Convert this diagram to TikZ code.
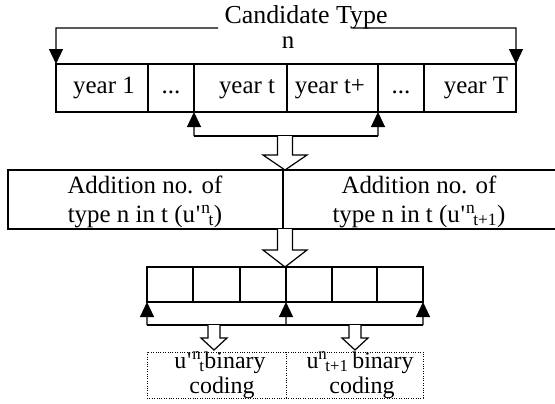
\documentclass[tikz,border=0pt]{standalone}
\usepackage{fontspec}
\setmainfont{Liberation Serif}
\usetikzlibrary{arrows.meta}
\newcommand{\mysupsub}[2]{\textsuperscript{#1}\kern-0.08em\textsubscript{#2}}
\newcommand{\myq}{\kern0.03em\textquotesingle\kern0.04em}
\tikzset{
  cell/.style={draw, line width=1.2bp, minimum height=#1, inner sep=0pt, outer sep=0pt},
  upTip/.style={line width=1.2bp, -{Triangle[length=15bp,width=14bp]}},
  hollow/.style={draw, fill=white, line width=1.2bp, line join=miter},
  dotbox/.style={draw, dash pattern=on 1bp off 1.4bp, line width=0.9bp, inner sep=0pt, outer sep=0pt, minimum height=46bp},
  lbl/.style={anchor=base, inner sep=0pt, font=\fontsize{25}{28}\selectfont},
  tlbl/.style={anchor=base, inner sep=0pt, font=\fontsize{26}{28}\selectfont},
  slbl/.style={anchor=base, inner sep=0pt, font=\fontsize{24}{28}\selectfont},
}
\begin{document}
\begin{tikzpicture}[x=1bp,y=-1bp]
\useasboundingbox (0,0) rectangle (555,403);
% year row
\node[cell=48bp, minimum width=92bp] (y1) at (102,88) {};
\node[cell=48bp, minimum width=46bp] (y2) at (171,88) {};
\node[cell=48bp, minimum width=93bp] (y3) at (240.5,88) {};
\node[cell=48bp, minimum width=91bp] (y4) at (332.5,88) {};
\node[cell=48bp, minimum width=46bp] (y5) at (401,88) {};
\node[cell=48bp, minimum width=92bp] (y6) at (470,88) {};
\node[lbl] (t1) at (104,93) {year 1};
\node[lbl] (t2) at (171,93) {...};
\node[lbl] (t3) at (247,93) {year t};
\node[lbl] (t4) at (330,93) {year t+};
\node[lbl] (t5) at (401,93) {...};
\node[lbl] (t6) at (476,93) {year T};
% top label and bracket
\node[tlbl] (cand) at (306,23) {Candidate Type};
\node[lbl] (nn) at (288,48) {n};
\coordinate (tlA) at (218,28);
\coordinate (tlB) at (56,28);
\coordinate (trA) at (353,28);
\coordinate (trB) at (516,28);
\draw[upTip] (tlA) -- (tlB) -- (y1.north west);
\draw[upTip] (trA) -- (trB) -- (y6.north east);
% bracket below year row
\coordinate (b1) at (194,136);
\coordinate (b2) at (378,136);
\draw[line width=1.2bp] (b1) -- (b2);
\draw[upTip] (b1) -- (y3.south west);
\draw[upTip] (b2) -- (y4.south east);
% hollow arrow 1
\draw[hollow] (277.5,136) -- (277.5,155) -- (263,155) -- (285,170) -- (307,155) -- (292.5,155) -- (292.5,136);
% middle boxes
\node[cell=59bp, minimum width=275bp] (ml) at (145.5,199.5) {};
\node[cell=59bp, minimum width=276bp] (mr) at (421,199.5) {};
\node[lbl] (ml1) at (145,193) {Addition no. of};
\node[lbl] (ml2) at (145,222) {type n in t (u\myq\mysupsub{n}{t})};
\node[lbl] (mr1) at (419,193) {Addition no. of};
\node[lbl] (mr2) at (419,222) {type n in t (u\myq\mysupsub{n}{t+1})};
% hollow arrow 2
\draw[hollow] (277.5,229) -- (277.5,250) -- (263,250) -- (285,267) -- (307,250) -- (292.5,250) -- (292.5,229);
% bottom cells
\node[cell=35bp, minimum width=46bp] (c1) at (170,284.5) {};
\node[cell=35bp, minimum width=47bp] (c2) at (216.5,284.5) {};
\node[cell=35bp, minimum width=46bp] (c3) at (263,284.5) {};
\node[cell=35bp, minimum width=46bp] (c4) at (309,284.5) {};
\node[cell=35bp, minimum width=45bp] (c5) at (354.5,284.5) {};
\node[cell=35bp, minimum width=46bp] (c6) at (400,284.5) {};
\coordinate (d1) at (147,325);
\coordinate (d2) at (286,325);
\coordinate (d3) at (423,325);
\draw[line width=1.2bp] (d1) -- (d3);
\draw[upTip] (d1) -- (c1.south west);
\draw[upTip] (d2) -- (c3.south east);
\draw[upTip] (d3) -- (c6.south east);
% small hollow arrows
\draw[hollow] (208,325) -- (208,338) -- (201,338) -- (214,350) -- (227,338) -- (220,338) -- (220,325);
\draw[hollow] (349,325) -- (349,338) -- (342,338) -- (355,350) -- (368,338) -- (361,338) -- (361,325);
% dotted boxes
\node[dotbox, minimum width=139bp] (e1) at (216.5,375) {};
\node[dotbox, minimum width=137bp] (e2) at (354.5,375) {};
\node[slbl] (e1a) at (220,368) {u\myq\mysupsub{n}{t}binary};
\node[slbl] (e1b) at (222,393) {coding};
\node[slbl] (e2a) at (360,368) {u\mysupsub{n}{t+1}\,binary};
\node[slbl] (e2b) at (362,393) {coding};
\end{tikzpicture}
\end{document}
